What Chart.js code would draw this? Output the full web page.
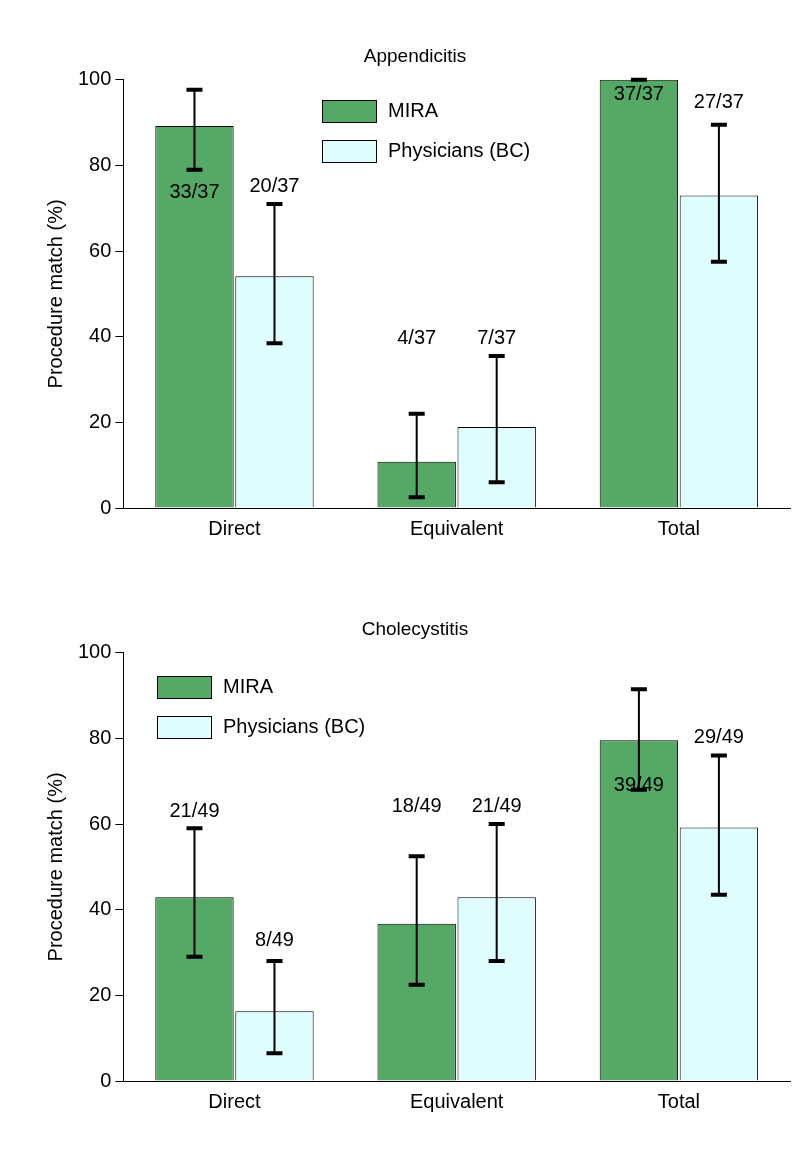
<!DOCTYPE html>
<html><head><meta charset="utf-8">
<script src="https://cdn.jsdelivr.net/npm/chart.js@4"></script>
<style>body{margin:0;background:#fff}.w{position:absolute;left:0;width:794px;height:575px}</style>
</head><body>
<div class="w" style="top:0"><canvas id="c1"></canvas></div>
<div class="w" style="top:573px"><canvas id="c2"></canvas></div>
<script>
const categories=["Direct","Equivalent","Total"];
const seriesNames=["MIRA","Physicians (BC)"];
const yTicks=[0,20,40,60,80,100];
// Appendicitis
const appMira=[89.2,10.8,100];
const appPhys=[54.1,18.9,73.0];
const appMiraErr=[[79,97.7],[2.5,22],[100,100]];
const appPhysErr=[[38.5,71],[6,35.5],[57.5,89.5]];
const appMiraLbl=["33/37","4/37","37/37"];
const appPhysLbl=["20/37","7/37","27/37"];
const appMiraLblY=[73.6,39.6,96.5];
const appPhysLblY=[75.2,39.6,94.6];
// Cholecystitis
const choMira=[42.9,36.7,79.6];
const choPhys=[16.3,42.9,59.2];
const choMiraErr=[[29,59],[22.5,52.5],[68,91.5]];
const choPhysErr=[[6.5,28],[28,60],[43.5,76]];
const choMiraLbl=["21/49","18/49","39/49"];
const choPhysLbl=["8/49","21/49","29/49"];
const choMiraLblY=[63,64.2,69];
const choPhysLblY=[32.7,64.2,80.2];

const FONT="'Liberation Sans', Arial, sans-serif";
const colors=["#55a866","#e0fdfd"];
function make(id,title,mira,phys,errs,lbls,lblY,legPos){
  const plugin={id:'extra'+id,afterDatasetsDraw(ch){
    const ctx=ch.ctx,y=ch.scales.y;
    ctx.save();
    [0,1].forEach(d=>{
      const meta=ch.getDatasetMeta(d);
      meta.data.forEach((b,i)=>{
        const [lo,hi]=errs[d][i];
        const x=b.x,yl=y.getPixelForValue(lo),yh=y.getPixelForValue(hi);
        ctx.strokeStyle='#000';ctx.lineWidth=2;
        ctx.beginPath();ctx.moveTo(x,yl);ctx.lineTo(x,yh);ctx.stroke();
        ctx.lineWidth=4;
        ctx.beginPath();ctx.moveTo(x-8,yl);ctx.lineTo(x+8,yl);ctx.moveTo(x-8,yh);ctx.lineTo(x+8,yh);ctx.stroke();
        ctx.fillStyle='#000';ctx.font='20px '+FONT;ctx.textAlign='center';ctx.textBaseline='middle';
        ctx.fillText(lbls[d][i],x,y.getPixelForValue(lblY[d][i]));
      });
    });
    const [lx,ly]=legPos;
    seriesNames.forEach((n,k)=>{
      const yy=ly+k*40;
      ctx.fillStyle=colors[k];ctx.fillRect(lx,yy,54,22);
      ctx.strokeStyle='#000';ctx.lineWidth=1;ctx.strokeRect(lx+0.5,yy+0.5,54,22);
      ctx.fillStyle='#000';ctx.font='20px '+FONT;ctx.textAlign='left';ctx.textBaseline='middle';
      ctx.fillText(n,lx+66,yy+11);
    });
    ctx.restore();
  }};
  new Chart(document.getElementById(id),{
    type:'bar',
    data:{labels:categories,datasets:[
      {label:seriesNames[0],data:mira,backgroundColor:colors[0],borderColor:'#000',borderWidth:1},
      {label:seriesNames[1],data:phys,backgroundColor:colors[1],borderColor:'#000',borderWidth:1}]},
    options:{responsive:true,maintainAspectRatio:false,animation:false,
      categoryPercentage:0.72,barPercentage:0.98,
      layout:{padding:{left:40,right:4,top:0,bottom:33}},
      plugins:{legend:{display:false},tooltip:{enabled:false},
        title:{display:true,text:title,color:'#000',font:{family:FONT,size:19,weight:'normal'},padding:{top:45,bottom:12}}},
      scales:{
        x:{grid:{display:false},border:{color:'#000',width:1},
          ticks:{color:'#000',font:{family:FONT,size:20},padding:1}},
        y:{min:0,max:100,afterBuildTicks(a){a.ticks=yTicks.map(v=>({value:v}));},
          grid:{drawOnChartArea:false,tickLength:8,color:'#000'},border:{color:'#000',width:1},
          ticks:{color:'#000',font:{family:FONT,size:20},padding:4},
          title:{display:true,text:'Procedure match (%)',color:'#000',font:{family:FONT,size:20},padding:{bottom:6}}}
      }},
    plugins:[plugin]
  });
}
make('c1','Appendicitis',appMira,appPhys,[appMiraErr,appPhysErr],[appMiraLbl,appPhysLbl],[appMiraLblY,appPhysLblY],[322,100]);
make('c2','Cholecystitis',choMira,choPhys,[choMiraErr,choPhysErr],[choMiraLbl,choPhysLbl],[choMiraLblY,choPhysLblY],[157,676-573]);
</script>
</body></html>
